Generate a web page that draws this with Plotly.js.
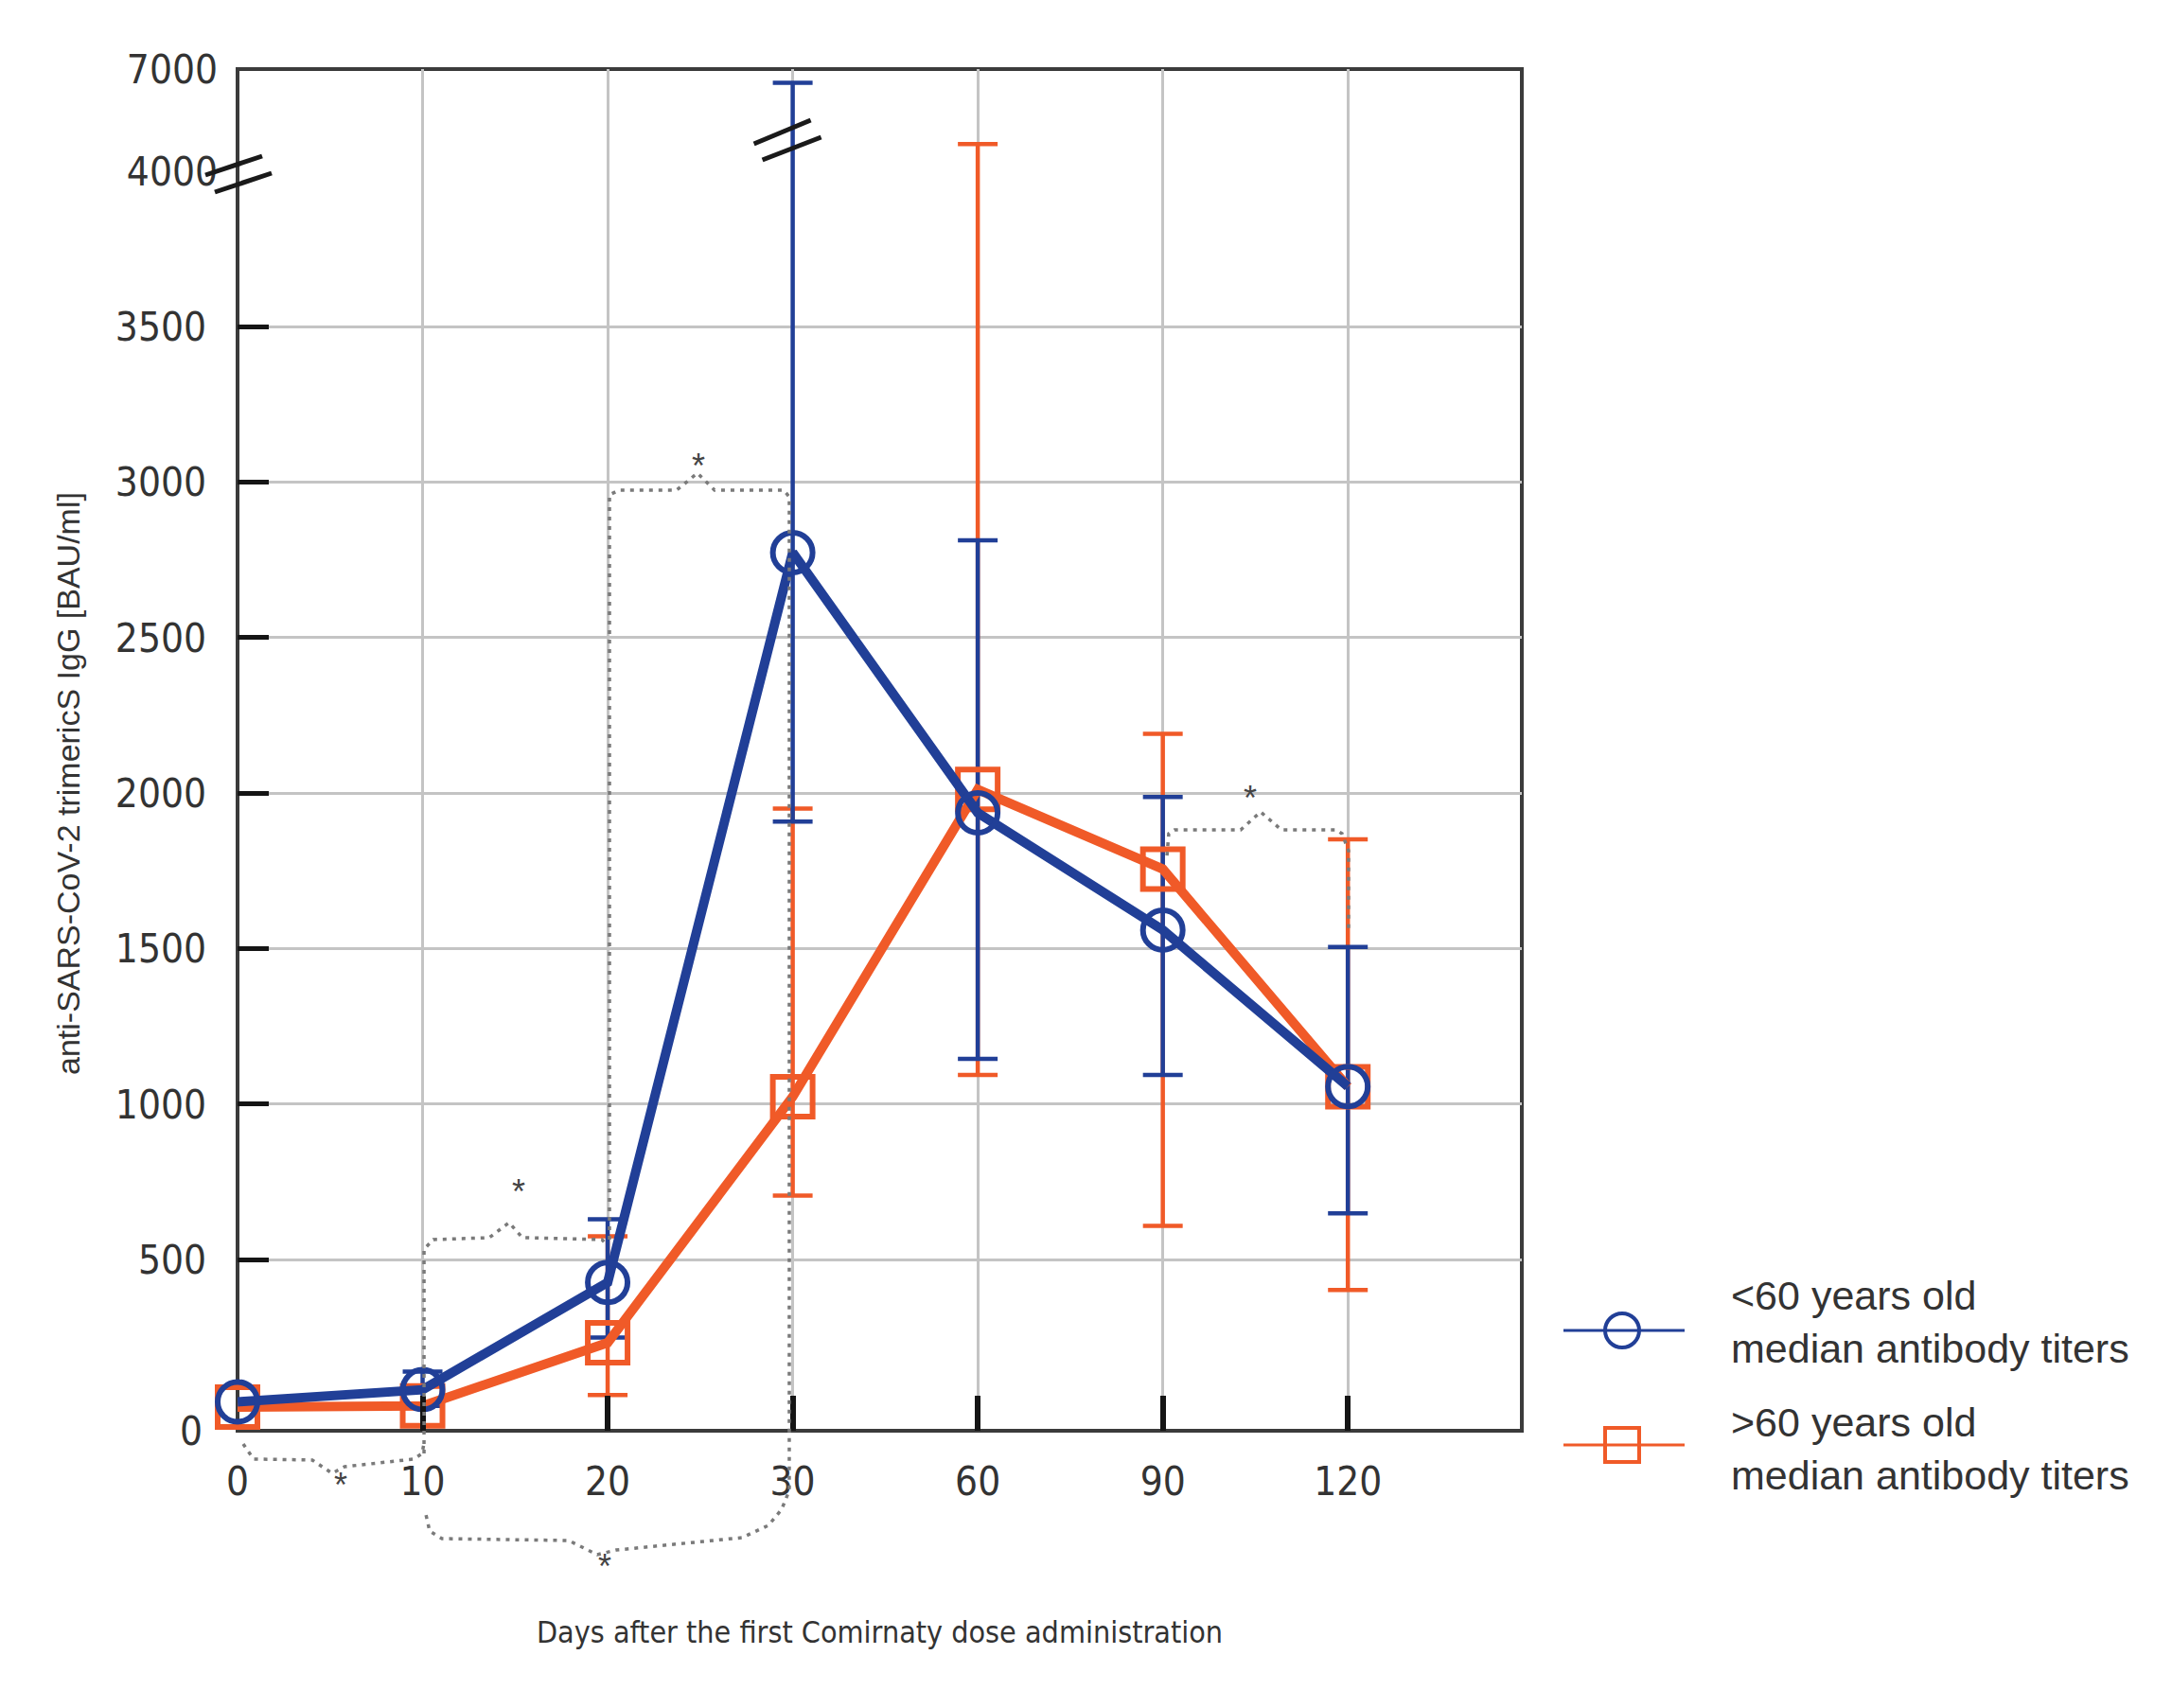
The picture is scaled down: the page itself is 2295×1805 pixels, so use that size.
<!DOCTYPE html>
<html>
<head>
<meta charset="utf-8">
<script src="https://cdn.plot.ly/plotly-3.0.1.min.js"></script>
<style>
  html, body { margin: 0; padding: 0; background: #fff; }
  #chart { width: 2295px; height: 1805px; }
</style>
</head>
<body>
<div id="chart"></div>
<script>
// data (median titers, BAU/ml, with upper/lower bar ends)
const days = ["0", "10", "20", "30", "60", "90", "120"];
const under60 = [43, 82, 427, 2774, 1937, 1560, 1057];
const under60Hi = [null, 140, 630, 6600, 2813, 1988, 1506];
const under60Lo = [null, 30, 250, 1909, 1146, 1094, 649];
const over60 = [26, 30, 233, 1024, 2012, 1756, 1056];
const over60Hi = [null, null, 575, 1951, 4800, 2191, 1852];
const over60Lo = [null, null, 65, 706, 1094, 609, 403];
const lowerTicks = [500, 1000, 1500, 2000, 2500, 3000, 3500];
const upperTicks = [4000, 7000];

const BLUE = "#213f97";
const ORANGE = "#f05a28";
const GRID = "#c4c4c4";
const TXT = "#333333";
const NARROW = '"Liberation Sans Narrow", "DejaVu Sans Condensed", "Arial Narrow", sans-serif';
const REG = '"Liberation Sans", Arial, sans-serif';

// plot box in page pixels
const L = 251, R = 1608, T = 73, B = 1512;
const PW = R - L, PH = B - T;
const SPLIT = (B - 181) / PH;   // lower panel 0..4000, upper panel 4000..7000
const XMAX = 6.94;
const xs = days.map((d, i) => i);

const px = x => (x - L) / PW;
const py = y => (B - y) / PH;
const pt = (x, y) => px(x).toFixed(4) + "," + py(y).toFixed(4);
const path = pts => "M" + pts.map(p => pt(p[0], p[1])).join(" L");

const errPlus = (v, hi) => hi.map((h, i) => h == null ? NaN : h - v[i]);
const errMinus = (v, lo) => lo.map((l, i) => l == null ? NaN : v[i] - l);

function errTrace(vals, hi, lo, color, yaxis) {
  return {
    x: xs, y: vals, yaxis: yaxis, type: "scatter", mode: "markers",
    marker: { size: 1, color: "rgba(0,0,0,0)" },
    error_y: {
      type: "data", symmetric: false,
      array: errPlus(vals, hi), arrayminus: errMinus(vals, lo),
      color: color, thickness: 4.5, width: 21
    },
    cliponaxis: true, hoverinfo: "skip", showlegend: false
  };
}

function lineTrace(vals, color, symbol, name) {
  return {
    x: xs, y: vals, name: name, type: "scatter", mode: "lines+markers",
    line: { color: color, width: 10 },
    marker: { symbol: symbol, size: 42, color: color, line: { color: color, width: 6 } },
    cliponaxis: false, showlegend: false
  };
}

const traces = [
  errTrace(over60, over60Hi, over60Lo, ORANGE, "y"),
  errTrace(under60, under60Hi, under60Lo, BLUE, "y"),
  errTrace(over60, over60Hi, over60Lo, ORANGE, "y2"),
  errTrace(under60, under60Hi, under60Lo, BLUE, "y2"),
  lineTrace(over60, ORANGE, "square-open", ">60 years old median antibody titers"),
  lineTrace(under60, BLUE, "circle-open", "<60 years old median antibody titers")
];

const dotted = { color: "#7a7a7a", width: 3.5, dash: "4px,6px" };
const brackets = [
  // 0 vs 10 (below axis)
  [[257, 1526], [268, 1542], [330, 1543], [351, 1557], [364, 1550], [437, 1542], [446, 1536], [448, 1525]],
  // 10 vs 20
  [[448, 1536], [448, 1320], [458, 1310], [517, 1308], [538, 1292], [552, 1308], [636, 1310], [642, 1316]],
  // 20 vs 30, right leg runs down into the 10 vs 30 brace
  [[644, 1310], [644, 523], [654, 518], [715, 518], [737, 500], [755, 518], [828, 518], [834, 525],
   [834, 1575], [826, 1595], [812, 1612], [784, 1625], [651, 1638], [631, 1643], [601, 1628],
   [467, 1626], [454, 1618], [450, 1600]],
  // 90 vs 120
  [[1233, 904], [1235, 881], [1241, 877], [1311, 877], [1332, 858], [1354, 877], [1412, 877],
   [1418, 881], [1425, 899], [1425, 986]]
];
const stars = [[351, 1592], [539, 1282], [738, 470], [630, 1678], [1330, 843]];

const shapes = [
  { type: "rect", xref: "paper", yref: "paper", x0: 0, x1: 1, y0: 0, y1: 1,
    line: { color: "#3b3b3b", width: 4 }, layer: "between" }
];
brackets.forEach(b => shapes.push({ type: "path", xref: "paper", yref: "paper", path: path(b), line: dotted }));

// axis-break marks
function breakMark(xa, ya, segs) {
  segs.forEach(s => shapes.push({
    type: "line", xref: "paper", yref: "paper",
    xsizemode: "pixel", ysizemode: "pixel", xanchor: xa, yanchor: ya,
    x0: s[0], y0: s[1], x1: s[2], y1: s[3],
    line: { color: "#1a1a1a", width: 5 }
  }));
}
breakMark(0, SPLIT, [[-34, -4, 26, 16], [-24, -22, 36, -2]]);
breakMark(3 / XMAX, SPLIT, [[-41, 29, 19, 54], [-32, 12, 30, 36]]);

// legend drawn by hand to keep the long line samples
const legendRows = [
  { y: 1406, ty: 1397, color: BLUE, shape: "circle", text: "&lt;60 years old<br>median antibody titers" },
  { y: 1527, ty: 1531, color: ORANGE, shape: "rect", text: "&gt;60 years old<br>median antibody titers" }
];
const annotations = [];
legendRows.forEach(r => {
  shapes.push({ type: "line", xref: "paper", yref: "paper", x0: px(1652), x1: px(1780), y0: py(r.y), y1: py(r.y),
    line: { color: r.color, width: 3 } });
  shapes.push({ type: r.shape, xref: "paper", yref: "paper", xsizemode: "pixel", ysizemode: "pixel",
    xanchor: px(1714), yanchor: py(r.y), x0: -18, x1: 18, y0: -18, y1: 18,
    line: { color: r.color, width: 4 } });
  annotations.push({ xref: "paper", yref: "paper", x: px(1827), y: py(r.ty), xanchor: "left", yanchor: "middle",
    align: "left", showarrow: false, text: r.text, font: { family: REG, size: 43, color: TXT } });
});

stars.forEach(s => annotations.push({ xref: "paper", yref: "paper", x: px(s[0]), y: py(s[1]),
  showarrow: false, text: "*", font: { family: REG, size: 36, color: "#444" } }));

annotations.push({ xref: "paper", yref: "paper", x: 0, y: 0, xanchor: "right", yanchor: "middle", xshift: -35,
  showarrow: false, text: "0", font: { family: NARROW, size: 42, color: TXT } });
annotations.push({ xref: "paper", yref: "paper", x: px(51), y: py(828), textangle: -90, showarrow: false,
  text: "anti-SARS-CoV-2 trimericS IgG [BAU/ml]", font: { family: REG, size: 34, color: TXT } });

const layout = {
  width: 2295, height: 1805,
  margin: { l: L, r: 2295 - R, t: T, b: 1805 - B },
  paper_bgcolor: "#fff", plot_bgcolor: "#fff",
  showlegend: false,
  font: { family: NARROW, color: TXT },
  xaxis: {
    range: [0, XMAX], tickvals: xs, ticktext: days,
    ticks: "inside", ticklen: 37, tickwidth: 6, tickcolor: "#151515",
    showgrid: true, gridcolor: GRID, gridwidth: 3, zeroline: false, showline: false,
    tickfont: { family: NARROW, size: 42, color: TXT }, ticklabelstandoff: 25,
    title: { text: "Days after the first Comirnaty dose administration", standoff: 124,
      font: { family: NARROW, size: 32, color: TXT } }
  },
  yaxis: {
    domain: [0, SPLIT], range: [-50, 4000], tickvals: lowerTicks,
    ticks: "inside", ticklen: 33, tickwidth: 5, tickcolor: "#151515",
    showgrid: true, gridcolor: GRID, gridwidth: 3, zeroline: false, showline: false,
    tickfont: { family: NARROW, size: 42, color: TXT }, ticklabelstandoff: 32
  },
  yaxis2: {
    domain: [SPLIT, 1], range: [4000, 7000], tickvals: upperTicks, anchor: "x",
    ticks: "", showgrid: true, gridcolor: GRID, gridwidth: 3, zeroline: false, showline: false,
    tickfont: { family: NARROW, size: 42, color: TXT }, ticklabelstandoff: 20
  },
  shapes: shapes,
  annotations: annotations
};

Plotly.newPlot("chart", traces, layout, { displayModeBar: false, responsive: false });
</script>
</body>
</html>
